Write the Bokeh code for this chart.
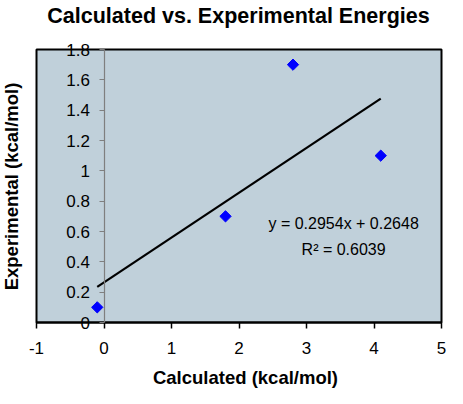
import math
from bokeh.plotting import figure
from bokeh.models import LinearAxis, Label, FixedTicker, CustomJSTickFormatter
from bokeh.embed import file_html
from bokeh.resources import INLINE

calculated = [-0.1, 1.8, 2.8, 4.1]
experimental = [0.1, 0.7, 1.7, 1.1]
slope = 0.2954
intercept = 0.2648
r_squared = 0.6039
x_ticks = [-1, 0, 1, 2, 3, 4, 5]
y_ticks = [0, 0.2, 0.4, 0.6, 0.8, 1.0, 1.2, 1.4, 1.6, 1.8]

FONT = "Liberation Sans"

# canvas layout (pixels) – the whole canvas is the plotting frame so that
# tick labels that overlap the plot-area border are not clipped
W, H = 447, 388
BOX_L, BOX_R, BOX_T, BOX_B = 36, 441, 49, 322
x0, x1 = x_ticks[0], x_ticks[-1]
y0, y1 = y_ticks[0], y_ticks[-1]
sx = (BOX_R - BOX_L) / (x1 - x0)
sy = (BOX_B - BOX_T) / (y1 - y0)
xr = (x0 - BOX_L / sx, x1 + (W - BOX_R) / sx)
yr = (y0 - (H - BOX_B) / sy, y1 + BOX_T / sy)


def dx(px):
    return xr[0] + px / sx


def dy(py):
    return yr[1] - py / sy


p = figure(width=W, height=H, x_range=xr, y_range=yr,
           output_backend="svg", toolbar_location=None,
           x_axis_location=None, y_axis_location=None,
           min_border_left=0, min_border_right=0, min_border_top=0,
           min_border_bottom=0)
p.background_fill_color = "white"
p.border_fill_color = "white"
p.outline_line_color = None
p.grid.visible = False

# plot area
p.quad(left=x0, right=x1, bottom=y0, top=y1, fill_color="#C0D0DA",
       line_color="black", line_width=2)

fmt = CustomJSTickFormatter(code="return String(tick)")

# x axis along y = 0
xa = LinearAxis(ticker=FixedTicker(ticks=x_ticks), fixed_location=0,
                bounds=(x0, x1), formatter=fmt,
                major_label_text_font=FONT, major_label_text_font_size="17px",
                major_label_text_color="black", major_label_standoff=13,
                major_tick_out=6, major_tick_in=0,
                minor_tick_out=0, minor_tick_in=0,
                axis_line_color="black", axis_line_width=2,
                major_tick_line_color="black", major_tick_line_width=1.5)
p.add_layout(xa, "below")

# y axis crossing at x = 0
ya = LinearAxis(ticker=FixedTicker(ticks=y_ticks), fixed_location=0,
                bounds=(y0, y1), formatter=fmt,
                major_label_text_font=FONT, major_label_text_font_size="17px",
                major_label_text_color="black", major_label_standoff=9,
                major_tick_out=5, major_tick_in=0,
                minor_tick_out=0, minor_tick_in=0,
                axis_line_color="#7F7F7F", axis_line_width=1.2,
                major_tick_line_color="#7F7F7F")
p.add_layout(ya, "left")

# trendline
xa0, xa1 = min(calculated), max(calculated)
p.line([xa0, xa1], [slope * xa0 + intercept, slope * xa1 + intercept],
       line_color="black", line_width=2.2)

p.scatter(calculated, experimental, marker="square", size=8, angle=math.pi / 4,
          fill_color="#0000FF", line_color="#0000FF")

p.add_layout(Label(x=3.55, y=0.656, text=f"y = {slope}x + {intercept}",
                   text_font=FONT, text_font_size="16px", text_color="black",
                   text_align="center", text_baseline="middle"))
p.add_layout(Label(x=3.55, y=0.482, text=f"R² = {r_squared}",
                   text_font=FONT, text_font_size="16px", text_color="black",
                   text_align="center", text_baseline="middle"))

# titles
p.add_layout(Label(x=dx(238), y=dy(15), text="Calculated vs. Experimental Energies",
                   text_font=FONT, text_font_size="21.5px", text_font_style="bold",
                   text_color="black", text_align="center",
                   text_baseline="middle"))
p.add_layout(Label(x=dx(245), y=dy(377), text="Calculated (kcal/mol)",
                   text_font=FONT, text_font_size="18.5px", text_font_style="bold",
                   text_color="black", text_align="center",
                   text_baseline="middle"))
p.add_layout(Label(x=dx(11), y=dy(186), text="Experimental (kcal/mol)",
                   angle=math.pi / 2,
                   text_font=FONT, text_font_size="18.5px", text_font_style="bold",
                   text_color="black", text_align="center",
                   text_baseline="middle"))

open("out.html", "w").write(file_html(p, INLINE))
